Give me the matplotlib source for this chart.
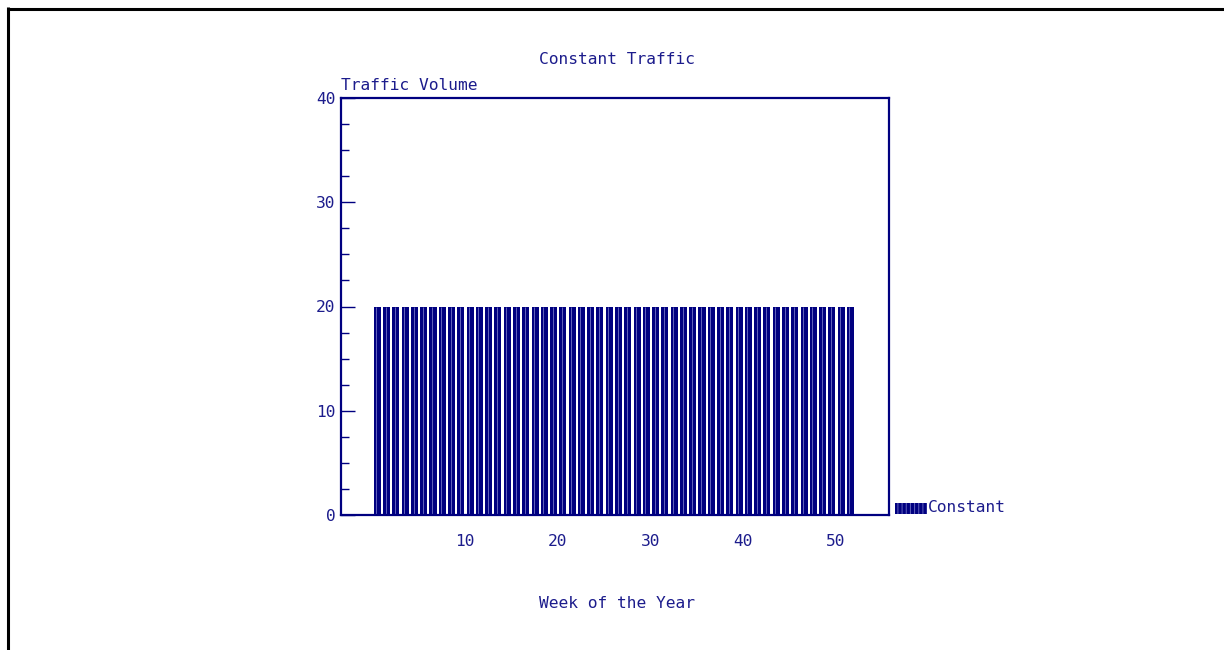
# Constant traffic bar chart, redrawn to look like the old plotter output
import numpy as np
import matplotlib
matplotlib.use('Agg')
import matplotlib.pyplot as plt
import matplotlib.patches as mpatches
from matplotlib.lines import Line2D
from matplotlib.ticker import MultipleLocator

# Data
weeks = np.arange(1, 53)
volume = [20] * 52
xTicks = [10, 20, 30, 40, 50]
yTicks = [0, 10, 20, 30, 40]
seriesName = 'Constant'

NAVY = '#000080'
LIGHT = '#6464bc'
TEXT = '#1c1c8c'
FONT = 'DejaVu Sans Mono'
FSIZE = 11.7

plt.rcParams['hatch.color'] = LIGHT
plt.rcParams['hatch.linewidth'] = 0.7
plt.rcParams['font.family'] = FONT

fig = plt.figure(figsize=(12.24, 6.5), dpi=100)
ax = fig.add_axes([341 / 1224, 135 / 650, 548 / 1224, 417 / 650])

# Bars plus a thin light stripe inside each one
ax.bar(weeks - 0.45, volume, width=0.76, color=NAVY, linewidth=0)
ax.vlines(weeks - 0.55, 0, volume, color=LIGHT, linewidth=0.7)

ax.set_xlim(-3.37, 55.71)
ax.set_ylim(0, 40)
ax.set_xticks(xTicks)
ax.set_yticks(yTicks)
ax.yaxis.set_minor_locator(MultipleLocator(2.5))

for s in ax.spines.values():
    s.set_color(NAVY)
    s.set_linewidth(1.6)

ax.tick_params(axis='y', which='major', direction='in', length=10, width=1.0,
               color=NAVY, labelcolor=TEXT, labelsize=FSIZE, pad=4)
ax.tick_params(axis='y', which='minor', direction='in', length=5.5, width=1.0, color=NAVY)
ax.tick_params(axis='x', which='both', length=0, labelcolor=TEXT, labelsize=FSIZE, pad=14)

# Titles and labels placed in figure space
fig.text(617 / 1224, 1 - 60 / 650, 'Constant Traffic', ha='center', va='center',
         color=TEXT, fontsize=FSIZE)
fig.text(341 / 1224, 1 - 85 / 650, 'Traffic Volume', ha='left', va='center',
         color=TEXT, fontsize=FSIZE)
fig.text(617 / 1224, 1 - 603 / 650, 'Week of the Year', ha='center', va='center',
         color=TEXT, fontsize=FSIZE)

# Legend: hatched swatch and name
swatch = mpatches.Rectangle((895 / 1224, 1 - 514 / 650), 32 / 1224, 11 / 650,
                            transform=fig.transFigure, facecolor=NAVY, hatch='||||',
                            linewidth=0)
fig.patches.append(swatch)
fig.text(928 / 1224, 1 - 508 / 650, seriesName, ha='left', va='center',
         color=TEXT, fontsize=FSIZE)

# Black page frame, top and left only
fig.add_artist(Line2D([7 / 1224, 1], [1 - 8.5 / 650, 1 - 8.5 / 650],
                      transform=fig.transFigure, color='black', linewidth=2.2,
                      solid_capstyle='butt'))
fig.add_artist(Line2D([7.5 / 1224, 7.5 / 1224], [0, 1 - 7 / 650],
                      transform=fig.transFigure, color='black', linewidth=2.2,
                      solid_capstyle='butt'))

fig.savefig('out.png', dpi=100)
